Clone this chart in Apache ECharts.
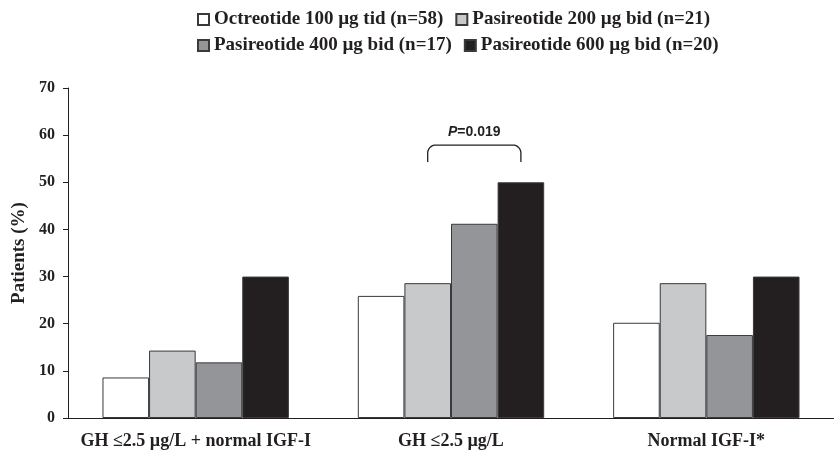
<!DOCTYPE html>
<html><head><meta charset="utf-8">
<script src="https://cdn.jsdelivr.net/npm/echarts@6/dist/echarts.min.js"></script>
<style>html,body{margin:0;padding:0;background:#fff}#c{width:834px;height:451px}</style>
</head><body><div id="c"></div>
<script>
const categories = ['GH \u22642.5 \u00b5g/L + normal IGF-I', 'GH \u22642.5 \u00b5g/L', 'Normal IGF-I*'];
const seriesNames = ['Octreotide 100 \u00b5g tid (n=58)', 'Pasireotide 200 \u00b5g bid (n=21)', 'Pasireotide 400 \u00b5g bid (n=17)', 'Pasireotide 600 \u00b5g bid (n=20)'];
const octreotide100 = [8.6, 25.9, 20.2];
const pasireotide200 = [14.3, 28.6, 28.6];
const pasireotide400 = [11.8, 41.2, 17.6];
const pasireotide600 = [30.0, 50.0, 30.0];
const yTicks = [0, 10, 20, 30, 40, 50, 60, 70];
const pValueText = '=0.019';
const bracketTop = 57.9, bracketBottom = 54.3;

const colors = ['#ffffff', '#c8c9cb', '#939598', '#231f20'];
const values = [octreotide100, pasireotide200, pasireotide400, pasireotide600];
const font = '"Liberation Serif", "Times New Roman", serif';
const ink = '#231f20';
const chart = echarts.init(document.getElementById('c'));
const legendText = {color: ink, fontFamily: font, fontWeight: 'bold', fontSize: 19};
const legendBase = {left: 192, itemWidth: 11, itemHeight: 11, itemGap: 12, icon: 'rect', textStyle: legendText, selectedMode: false};
chart.setOption({
  animation: false,
  legend: [
    Object.assign({data: seriesNames.slice(0, 2), top: 5}, legendBase),
    Object.assign({data: seriesNames.slice(2, 4), top: 31}, legendBase)
  ],
  grid: {left: 68, right: -5, top: 88, bottom: 33, containLabel: false},
  xAxis: {
    type: 'category', data: categories,
    axisLine: {lineStyle: {color: ink, width: 1}},
    axisTick: {show: false},
    axisLabel: {color: ink, fontFamily: font, fontWeight: 'bold', fontSize: 18, margin: 14, interval: 0}
  },
  yAxis: {
    type: 'value', min: yTicks[0], max: yTicks[yTicks.length - 1], interval: 10,
    name: 'Patients (%)', nameLocation: 'middle', nameGap: 34, nameRotate: 90,
    nameTextStyle: {color: ink, fontFamily: font, fontWeight: 'bold', fontSize: 19},
    axisLine: {show: true, lineStyle: {color: ink, width: 1}},
    axisTick: {show: true, inside: false, length: 5, lineStyle: {color: ink}},
    splitLine: {show: false},
    axisLabel: {color: ink, fontFamily: font, fontWeight: 'bold', fontSize: 16, margin: 13}
  },
  series: values.map((v, i) => ({
    name: seriesNames[i], type: 'bar', data: v,
    barGap: '0%', barCategoryGap: '27%',
    itemStyle: {color: colors[i], borderColor: '#3a3a3a', borderWidth: 1}
  }))
});

function drawBracket() {
  const rect = chart.getModel().getComponent('grid').coordinateSystem.getRect();
  const band = rect.width / categories.length;
  const barW = band * (1 - 0.27) / 4;
  const cx = chart.convertToPixel({xAxisIndex: 0}, categories[1]);
  const x1 = cx - barW / 2;     // center of 200 µg bar
  const x2 = cx + barW * 1.5;   // center of 600 µg bar
  const yT = chart.convertToPixel({yAxisIndex: 0}, bracketTop);
  const yB = chart.convertToPixel({yAxisIndex: 0}, bracketBottom);
  const r = 8;
  const pts = [[x1, yB]];
  for (let k = 0; k <= 8; k++) { const a = Math.PI - k * Math.PI / 16; pts.push([x1 + r + r * Math.cos(a), yT + r - r * Math.sin(a)]); }
  for (let k = 0; k <= 8; k++) { const a = Math.PI / 2 - k * Math.PI / 16; pts.push([x2 - r + r * Math.cos(a), yT + r - r * Math.sin(a)]); }
  pts.push([x2, yB]);
  chart.setOption({graphic: [
    {type: 'polyline', shape: {points: pts}, style: {fill: null, stroke: ink, lineWidth: 1.3}},
    {type: 'text', x: (x1 + x2) / 2, y: yT - 6,
     style: {text: '{i|P}{n|' + pValueText + '}', align: 'center', verticalAlign: 'bottom',
       rich: {i: {fontFamily: '"Liberation Sans", Arial, sans-serif', fontWeight: 'bold', fontStyle: 'italic', fontSize: 14, fill: ink},
              n: {fontFamily: '"Liberation Sans", Arial, sans-serif', fontWeight: 'bold', fontSize: 14, fill: ink}}}}
  ]});
}
drawBracket();
</script></body></html>
